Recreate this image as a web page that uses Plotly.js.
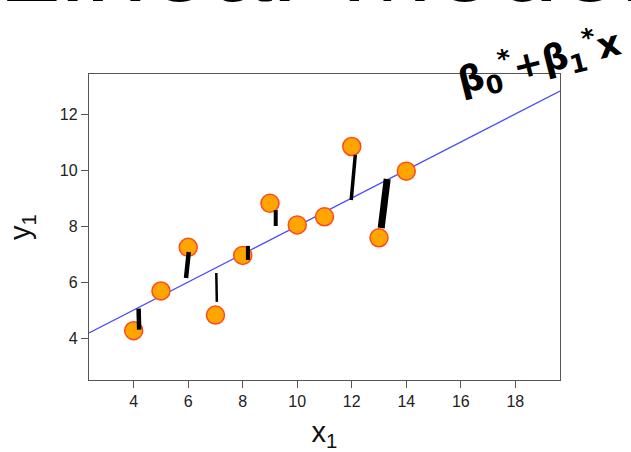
<!DOCTYPE html>
<html>
<head>
<meta charset="utf-8">
<script src="https://cdn.plot.ly/plotly-3.0.1.min.js"></script>
<style>html,body{margin:0;padding:0;background:#fff;}#plot{width:631px;height:452px;}</style>
</head>
<body>
<div id="plot"></div>
<script>
// Anscombe data set I
const x1 = [10, 8, 13, 9, 11, 14, 6, 4, 12, 7, 5];
const y1 = [8.04, 6.95, 7.58, 8.81, 8.33, 9.96, 7.24, 4.26, 10.84, 4.82, 5.68];
// fitted line y = b0 + b1 x
const b0 = 3.0;
const b1 = 0.5;
const xTicks = [4, 6, 8, 10, 12, 14, 16, 18];
const yTicks = [4, 6, 8, 10, 12];
// hand-drawn residual strokes
const strokeX0 = [4.18, 6.02, 7.03, 8.19, 9.21, 12.13, 13.30];
const strokeY0 = [5.05, 7.07, 6.32, 7.29, 8.57, 10.54, 9.68];
const strokeX1 = [4.20, 5.92, 7.05, 8.19, 9.21, 11.98, 13.08];
const strokeY1 = [4.30, 6.14, 5.29, 6.79, 8.00, 8.93, 7.93];
const strokeW  = [4.5, 4.5, 2.5, 4, 4, 3.5, 7];

const xRange = [2.36, 19.64];
const yRange = [2.5, 13.43];

const lineX = [xRange[0], xRange[1]];
const lineY = lineX.map(v => b0 + b1 * v);

const shapes = strokeX0.map((v, i) => ({
  type: 'line', xref: 'x', yref: 'y',
  x0: v, y0: strokeY0[i], x1: strokeX1[i], y1: strokeY1[i],
  line: {color: '#000', width: strokeW[i]}, layer: 'above'
}));

const traces = [
  {x: lineX, y: lineY, mode: 'lines', line: {color: '#4a4aff', width: 1.2}, hoverinfo: 'skip'},
  {x: x1, y: y1, mode: 'markers',
   marker: {size: 18, color: '#FFA500', line: {color: '#FF4A1A', width: 1.5}}}
];

const font = 'Liberation Sans, Arial, sans-serif';
const layout = {
  width: 631, height: 452,
  margin: {l: 89, r: 71, t: 74, b: 72},
  paper_bgcolor: '#fff', plot_bgcolor: '#fff',
  showlegend: false,
  xaxis: {
    range: xRange, tickvals: xTicks, ticktext: xTicks.map(String),
    showgrid: false, zeroline: false, showline: true, mirror: true,
    linecolor: '#555', linewidth: 1.2, ticks: 'outside', ticklen: 7, tickcolor: '#555',
    tickfont: {family: font, size: 16, color: '#222'},
    title: {text: 'x<sub>1</sub>', font: {family: font, size: 29, color: '#111'}, standoff: 12}
  },
  yaxis: {
    range: yRange, tickvals: yTicks, ticktext: yTicks.map(String),
    showgrid: false, zeroline: false, showline: true, mirror: true,
    linecolor: '#555', linewidth: 1.2, ticks: 'outside', ticklen: 7, tickcolor: '#555',
    tickfont: {family: font, size: 16, color: '#222'},
    title: {text: 'y<sub>1</sub>', font: {family: font, size: 29, color: '#111'}, standoff: 20}
  },
  shapes: shapes,
  annotations: [
    {xref: 'paper', yref: 'paper', x: -0.197, y: 1.154, xanchor: 'left', yanchor: 'bottom',
     text: 'Linear Models', showarrow: false,
     font: {family: font, size: 112, color: '#000'}},
    {xref: 'paper', yref: 'paper', x: 0.955, y: 1.04, xanchor: 'center', yanchor: 'middle',
     text: '<b>β<sub>0</sub><sup>*</sup>+β<sub>1</sub><sup>*</sup>x</b>', showarrow: false, textangle: -14,
     font: {family: 'DejaVu Sans, sans-serif', size: 36, color: '#000'}}
  ]
};

Plotly.newPlot('plot', traces, layout, {staticPlot: true, displayModeBar: false});
</script>
</body>
</html>
